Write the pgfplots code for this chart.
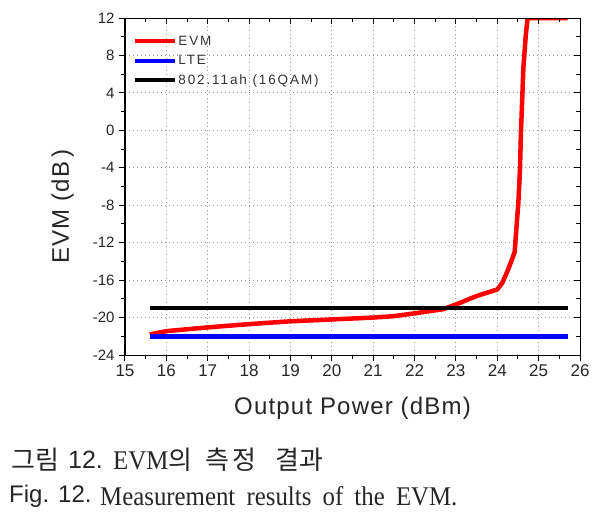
\documentclass[border=0pt]{standalone}
\usepackage{fontspec}
\usepackage{pgfplots}
\pgfplotsset{compat=1.18}
\setmainfont{Liberation Sans}
\newfontfamily\legfont[LetterSpace=14]{Liberation Sans}
\newfontfamily\labfont[LetterSpace=5]{Liberation Sans}
\newfontfamily\capserif[FakeStretch=0.92,WordSpace=1.8]{Liberation Serif}
\newfontfamily\cjk{Noto Sans CJK KR}
\newcommand{\lf}{\legfont\fontsize{13.5}{15}\selectfont}
\begin{document}
\begin{tikzpicture}
\useasboundingbox (-125pt,-160pt) rectangle (484pt,355pt);
\pgfplotsset{
  common/.style={
    scale only axis, width=455pt, height=337pt,
    xmin=15, xmax=26, ymin=-24, ymax=12,
    xtick={15,16,...,26}, ytick={-24,-20,...,12},
    minor x tick num=1, minor y tick num=1,
    major tick length=6pt, minor tick length=4pt,
    every tick/.style={black, line width=1pt},
    axis line style={line width=1pt},
  }
}
\begin{axis}[common,
  at={(0,0)}, anchor=south west,
  tick pos=left, tick align=outside,
  grid=major,
  major grid style={gray!80, line width=0.9pt, dash pattern=on 1.2pt off 2.8pt},
  /pgf/number format/assume math mode=true,
  xticklabel style={font=\fontsize{17}{19}\selectfont, text=black!85, yshift=0pt},
  yticklabel style={font=\fontsize{15}{17}\selectfont, text=black!85, xshift=-1pt},
  xlabel={Output Power (dBm)},
  ylabel={EVM (dB\,)},
  xlabel style={at={(axis description cs:0.5,-0.157)}, anchor=center, font=\labfont\fontsize{24}{28}\selectfont, text=black!85},
  ylabel style={at={(axis description cs:-0.137,0.44)}, anchor=center, font=\labfont\fontsize{24}{28}\selectfont, text=black!85},
  legend style={at={(0.018,0.95)}, anchor=north west, draw=none, fill=none,
    text=black!80, row sep=6.5pt, column sep=0pt, inner sep=0pt,
    nodes={inner xsep=1pt, inner ysep=1pt, font=\lf}},
  legend cell align=left,
  legend image code/.code={\draw[#1, line width=4pt] (0pt,0pt) -- (40pt,0pt);},
]
\addplot[red, line width=4.5pt, line join=round] coordinates {
 (15.6,-21.8) (16,-21.45) (17,-21.05) (18,-20.7) (19,-20.4) (20,-20.2)
 (21,-20.0) (21.5,-19.85) (22,-19.55) (22.7,-19.1) (23,-18.6) (23.5,-17.7)
 (24,-17.0) (24.12,-16.3) (24.25,-15.0) (24.38,-13.5) (24.42,-13.0)
 (24.45,-11.2) (24.51,-7.7) (24.55,-4.1) (24.57,-0.5) (24.6,3.0)
 (24.63,6.6) (24.69,10.2) (24.73,11.9) (24.8,12) (25.7,12)
};
\addlegendentry{\lf EVM}
\addplot[blue, line width=4.5pt] coordinates {(15.6,-22) (25.7,-22)};
\addlegendentry{\lf LTE}
\addplot[black, line width=4.5pt] coordinates {(15.6,-19) (25.7,-19)};
\addlegendentry{\lf 802.11ah (16QAM)}
\end{axis}
\begin{axis}[common,
  at={(0,0)}, anchor=south west,
  tick pos=right, tick align=inside,
  xticklabels={}, yticklabels={},
]
\end{axis}
\begin{scope}[every node/.style={anchor=west, inner sep=0pt, text=black!85}]
% caption line 1
\node at (-114pt,-105pt) {\cjk\fontsize{26}{28}\selectfont 그림};
\node at (-57pt,-105pt) {\fontsize{25}{28}\selectfont 12.};
\node at (-12pt,-105pt) {{\capserif\fontsize{27}{30}\selectfont EVM}{\cjk\fontsize{26}{28}\selectfont 의}};
\node at (80pt,-105pt) {\cjk\fontsize{26}{28}\selectfont 측\hspace{3pt}정};
\node at (150pt,-105pt) {\cjk\fontsize{26}{28}\selectfont 결과};
% caption line 2
\node at (-116pt,-141pt) {\fontsize{24}{28}\selectfont Fig.\hspace{9pt}12.};
\node at (-25pt,-141pt) {\capserif\fontsize{27}{30}\selectfont Measurement results of the EVM.};
\end{scope}
\end{tikzpicture}
\end{document}
